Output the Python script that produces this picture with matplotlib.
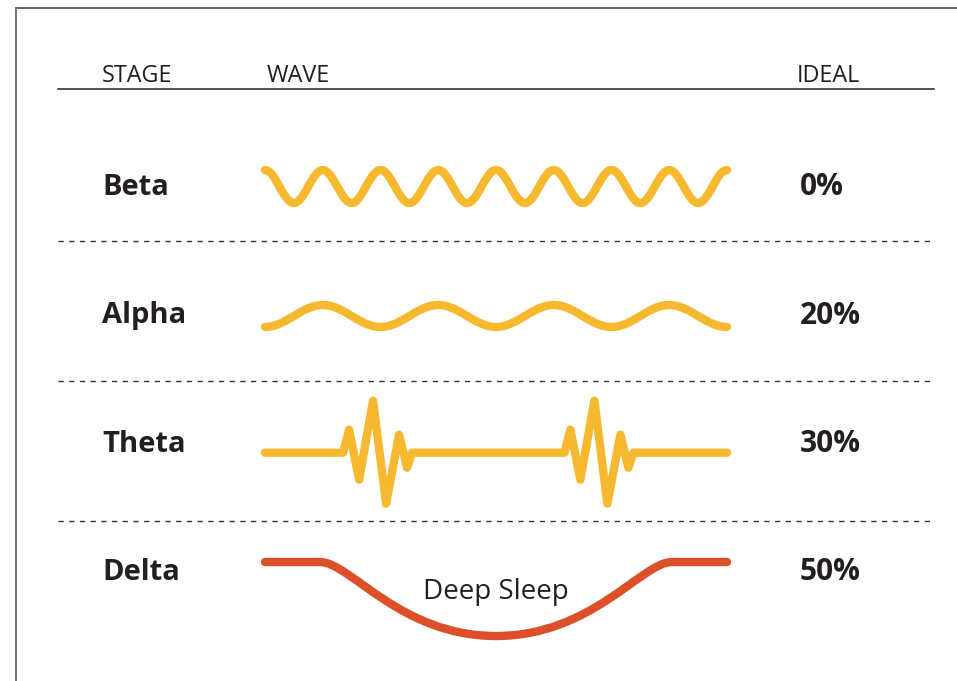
import numpy as np
import matplotlib.pyplot as plt
from matplotlib.path import Path
from matplotlib.patches import PathPatch

plt.rcParams['font.family'] = ['Open Sans', 'DejaVu Sans']

# data
headers = ['STAGE', 'WAVE', 'IDEAL']
stages = ['Beta', 'Alpha', 'Theta', 'Delta']
ideal_pct = [0, 20, 30, 50]
delta_note = 'Deep Sleep'

beta_cycles = 8
alpha_cycles = 4
# theta spike: offsets from spike start (px along, px up)
theta_dx = [0, 6, 16, 30, 43, 56, 64, 69]
theta_dy = [0, 23, -27, 52, -51, 18, -15, 0]
theta_spike_at = [0.169, 0.648]  # fraction of wave width
delta_depth = 74

# layout (pixels)
W, H = 957, 681
text_col = '#231f20'
yellow = '#f5b82e'
red = '#dc4f29'
wave_x0, wave_x1 = 265, 727
label_base = [195, 323.5, 452, 580.5]
wave_mid = [186.5, 316, 452.7, 562]
dash_y = [241.3, 381, 520.7]

fig = plt.figure(figsize=(W / 100, H / 100), dpi=100)
ax = fig.add_axes([0, 0, 1, 1])
ax.set_xlim(0, W)
ax.set_ylim(H, 0)
ax.axis('off')

# frame
ax.plot([15.7, W + 5], [8.3, 8.3], color='#3a3a3a', lw=1.1)
ax.plot([15.7, 15.7], [8.3, H + 5], color='#6a6a6a', lw=1.3)

# header
for txt, x in zip(headers, [102, 267, 797]):
    ax.text(x, 81.7, txt, fontsize=16.8, color=text_col, va='baseline')
ax.plot([58, 934], [88.5, 88.5], color=text_col, lw=1.1)

for y in dash_y:
    ax.plot([58, 934], [y, y], color='#333333', lw=1.0, ls=(0, (3.8, 3.9)))

for name, pct, yb in zip(stages, ideal_pct, label_base):
    ax.text(102, yb, name, fontsize=21, fontweight='bold', color=text_col, va='baseline')
    ax.text(800, yb, f'{pct}%', fontsize=21.5, fontweight='bold', color=text_col, va='baseline')

wave_kw = dict(lw=6, solid_capstyle='round', solid_joinstyle='round')
t = np.linspace(0, 1, 800)
xs = wave_x0 + t * (wave_x1 - wave_x0)

# Beta
ax.plot(xs, wave_mid[0] - 16.5 * np.cos(2 * np.pi * beta_cycles * t), color=yellow, **wave_kw)
# Alpha
ax.plot(xs, wave_mid[1] + 11 * np.cos(2 * np.pi * alpha_cycles * t), color=yellow, **wave_kw)

# Theta
tx, ty = [wave_x0], [wave_mid[2]]
for f in theta_spike_at:
    s = wave_x0 + f * (wave_x1 - wave_x0)
    tx += [s + d for d in theta_dx]
    ty += [wave_mid[2] - d for d in theta_dy]
tx.append(wave_x1)
ty.append(wave_mid[2])
ax.plot(tx, ty, color=yellow, **wave_kw)

# Delta
yf = wave_mid[3]
yb = yf + delta_depth
c = (wave_x0 + wave_x1) / 2 + 0.0
le, re = 320, 672
verts = [(wave_x0, yf), (le, yf), (le + 30, yf), (c - 96, yb), (c, yb),
         (c + 96, yb), (re - 30, yf), (re, yf), (wave_x1, yf)]
codes = [Path.MOVETO, Path.LINETO] + [Path.CURVE4] * 6 + [Path.LINETO]
ax.add_patch(PathPatch(Path(verts, codes), fill=False, edgecolor=red, lw=6,
                       capstyle='round', joinstyle='round'))
ax.text(c, 599, delta_note, fontsize=20, color=text_col, ha='center', va='baseline')

fig.savefig('out.png', dpi=100)
